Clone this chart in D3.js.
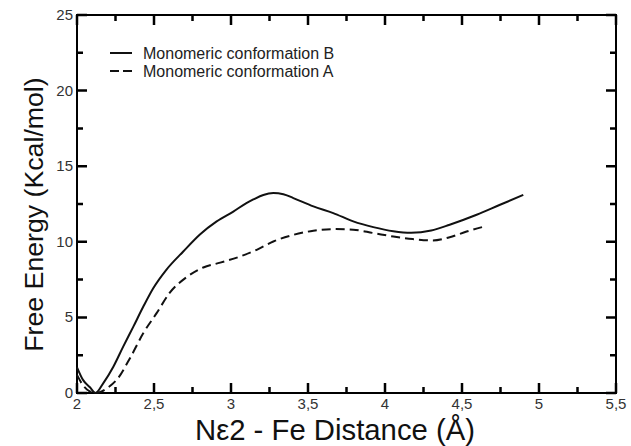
<!DOCTYPE html>
<html>
<head>
<meta charset="utf-8">
<script src="https://cdn.jsdelivr.net/npm/d3@7"></script>
<style>
  html, body { margin: 0; padding: 0; background: #fff; }
  svg { display: block; font-family: "Liberation Sans", Arial, sans-serif; }
</style>
</head>
<body>
<svg id="chart" width="631" height="446"></svg>
<script>
// ---- Data ----
const seriesNames = ["Monomeric conformation B", "Monomeric conformation A"];
const xB = [2.0, 2.04, 2.084, 2.12, 2.17, 2.236, 2.30, 2.366, 2.43, 2.495, 2.58, 2.69, 2.80, 2.907, 3.015, 3.10, 3.145, 3.21, 3.275, 3.34, 3.405, 3.535, 3.664, 3.794, 3.924, 4.054, 4.17, 4.30, 4.42, 4.595, 4.747, 4.898];
const yB = [1.7, 0.85, 0.38, 0.0, 0.64, 1.74, 3.07, 4.39, 5.7, 6.93, 8.15, 9.36, 10.5, 11.35, 12.0, 12.56, 12.8, 13.1, 13.22, 13.15, 12.89, 12.34, 11.9, 11.35, 10.97, 10.7, 10.6, 10.75, 11.13, 11.79, 12.45, 13.1];
const xA = [2.0, 2.04, 2.08, 2.12, 2.16, 2.2, 2.26, 2.344, 2.43, 2.517, 2.60, 2.71, 2.82, 2.93, 3.06, 3.167, 3.275, 3.405, 3.535, 3.664, 3.794, 3.924, 4.054, 4.18, 4.31, 4.42, 4.53, 4.66];
const yA = [1.2, 0.5, 0.12, 0.0, 0.1, 0.35, 0.9, 2.3, 3.95, 5.28, 6.6, 7.65, 8.3, 8.62, 9.03, 9.47, 10.02, 10.46, 10.73, 10.84, 10.8, 10.58, 10.35, 10.18, 10.09, 10.3, 10.68, 11.05];
const xMajorTicks = [2, 2.5, 3, 3.5, 4, 4.5, 5, 5.5];
const xMinorTicks = [2.25, 2.75, 3.25, 3.75, 4.25, 4.75, 5.25];
const yMajorTicks = [0, 5, 10, 15, 20, 25];
const yMinorTicks = [2.5, 7.5, 12.5, 17.5, 22.5];
const xTitle = "Nε2 - Fe Distance (Å)";
const yTitle = "Free Energy (Kcal/mol)";

// ---- Layout ----
const L = 77, R = 616, T = 15, B = 393;
const svg = d3.select("#chart");
const x = d3.scaleLinear().domain([2, 5.5]).range([L, R]);
const y = d3.scaleLinear().domain([0, 25]).range([B, T]);
const fmt = d => String(d).replace(".", ",");
const FONT = "'Liberation Sans', Arial, sans-serif";

// frame
svg.append("rect").attr("x", L).attr("y", T).attr("width", R - L).attr("height", B - T)
  .attr("fill", "none").attr("stroke", "#000").attr("stroke-width", 2);

// ticks (inward), drawn after the frame
let td = "";
xMajorTicks.forEach(d => { td += `M${x(d)},${B}V${B - 10}M${x(d)},${T}V${T + 10}`; });
xMinorTicks.forEach(d => { td += `M${x(d)},${B}V${B - 6}M${x(d)},${T}V${T + 6}`; });
yMajorTicks.forEach(d => { td += `M${L},${y(d)}H${L + 10}M${R},${y(d)}H${R - 10}`; });
yMinorTicks.forEach(d => { td += `M${L},${y(d)}H${L + 6}M${R},${y(d)}H${R - 6}`; });
svg.append("path").attr("d", td).attr("fill", "none").attr("stroke", "#000")
  .attr("stroke-width", 2.5).attr("stroke-linecap", "butt");

// tick labels
svg.append("g").selectAll("text").data(xMajorTicks).join("text")
  .attr("x", d => x(d)).attr("y", 409).attr("text-anchor", "middle")
  .attr("font-size", 15).attr("font-family", FONT).attr("fill", "#333").text(fmt);
svg.append("g").selectAll("text").data(yMajorTicks).join("text")
  .attr("x", L - 4).attr("y", d => y(d) + 5).attr("text-anchor", "end")
  .attr("font-size", 15).attr("font-family", FONT).attr("fill", "#333").text(fmt);

// lines
const line = d3.line().x(d => x(d[0])).y(d => y(d[1])).curve(d3.curveMonotoneX);
const dataB = xB.map((v, i) => [v, yB[i]]);
const dataA = xA.map((v, i) => [v, yA[i]]);
svg.append("path").datum(dataB).attr("d", line)
  .attr("fill", "none").attr("stroke", "#111").attr("stroke-width", 2);
svg.append("path").datum(dataA).attr("d", line)
  .attr("fill", "none").attr("stroke", "#111").attr("stroke-width", 2)
  .attr("stroke-dasharray", "9,5");

// legend
const leg = svg.append("g");
[0, 1].forEach(i => {
  const ly = 53 + i * 18;
  leg.append("line").attr("x1", 110).attr("x2", 132).attr("y1", ly).attr("y2", ly)
    .attr("stroke", "#111").attr("stroke-width", 2)
    .attr("stroke-dasharray", i === 1 ? "9,4" : null);
  leg.append("text").attr("x", 143).attr("y", ly + 5.5)
    .attr("font-size", 16).attr("font-family", FONT).attr("fill", "#222")
    .text(seriesNames[i]);
});

// titles
svg.append("text").attr("x", 335).attr("y", 440)
  .attr("text-anchor", "middle").attr("font-size", 29.3).attr("font-family", FONT).attr("fill", "#111")
  .text(xTitle);
svg.append("text").attr("transform", `translate(42.5,214.5) rotate(-90)`)
  .attr("text-anchor", "middle").attr("font-size", 26.7).attr("font-family", FONT).attr("fill", "#111")
  .text(yTitle);
</script>
</body>
</html>
